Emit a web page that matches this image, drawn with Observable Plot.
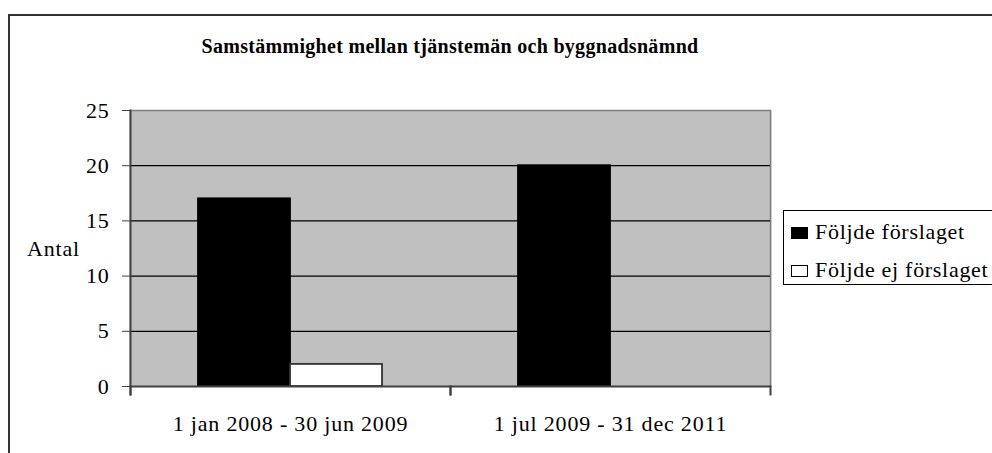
<!DOCTYPE html>
<html>
<head>
<meta charset="utf-8">
<script src="https://cdn.jsdelivr.net/npm/d3@7"></script>
<script src="https://cdn.jsdelivr.net/npm/@observablehq/plot@0.6"></script>
<style>
  html, body { margin: 0; padding: 0; background: #fff; }
  #wrap { position: relative; width: 992px; height: 453px; overflow: hidden; font-family: "Liberation Serif", "Times New Roman", serif; }
  #chart { position: absolute; left: 0; top: 0; }
  #outer { position: absolute; left: 8px; top: 14px; width: 1100px; height: 600px; border: 2px solid #333; box-sizing: border-box; }
  #title { position: absolute; left: 0; width: 900px; top: 36px; text-align: center; font-weight: bold; font-size: 20px; line-height: 20px; color: #000; white-space: nowrap; letter-spacing: 0.3px; }
  #ylabel { position: absolute; left: 27px; top: 238px; font-size: 22px; line-height: 22px; letter-spacing: 0.8px; }
  #legend { position: absolute; left: 783px; top: 210px; width: 300px; height: 75px; border: 1px solid #000; box-sizing: border-box; }
  .item { position: absolute; left: 7px; font-size: 22px; line-height: 22px; letter-spacing: 0.7px; white-space: nowrap; }
  .sw { position: absolute; left: 0; width: 17px; height: 12px; box-sizing: border-box; border: 1px solid #000; }
  .item span.t { position: absolute; left: 24px; top: 0; }
</style>
</head>
<body>
<div id="wrap">
  <div id="outer"></div>
  <div id="chart"></div>
  <div id="title"></div>
  <div id="ylabel"></div>
  <div id="legend"></div>
</div>
<script>
const chartTitle = "Samstämmighet mellan tjänstemän och byggnadsnämnd";
const yAxisTitle = "Antal";
const periods = ["1 jan 2008 - 30 jun 2009", "1 jul 2009 - 31 dec 2011"];
const seriesNames = ["Följde förslaget", "Följde ej förslaget"];
const followed = [17, 20];
const notFollowed = [2, 0];
const seriesFill = ["#000000", "#ffffff"];
const seriesStroke = ["#000000", "#333333"];
const yTicks = [0, 5, 10, 15, 20, 25];
const gridValues = [5, 10, 15, 20];

const seriesValues = [followed, notFollowed];
const data = [];
periods.forEach((p, i) => {
  seriesNames.forEach((s, j) => {
    data.push({period: p, series: s, value: seriesValues[j][i], fill: seriesFill[j], stroke: seriesStroke[j]});
  });
});

const plot = Plot.plot({
  width: 992,
  height: 453,
  marginLeft: 129,
  marginRight: 222,
  marginTop: 110,
  marginBottom: 67,
  style: {fontFamily: "'Liberation Serif', 'Times New Roman', serif", fontSize: "22px", letterSpacing: "0.8px", background: "transparent", color: "#000", overflow: "visible"},
  fx: {domain: periods, padding: 0, label: null},
  x: {domain: seriesNames, paddingInner: 0, paddingOuter: 0.73, axis: null},
  y: {domain: [0, 25], axis: null},
  marks: [
    Plot.frame({fill: "#c0c0c0", insetLeft: -1, insetRight: -1}),
    Plot.frame({anchor: "right", stroke: "#808080", strokeWidth: 1.5, facetAnchor: "right"}),
    Plot.ruleY(gridValues, {stroke: "#000", strokeWidth: 1.2}),
    Plot.ruleY([25], {stroke: "#808080", strokeWidth: 1.5}),
    Plot.barY(data, {fx: "period", x: "series", y: "value", fill: d => d.fill, stroke: d => d.stroke, strokeWidth: 1.8}),
    Plot.ruleY([0], {stroke: "#404040", strokeWidth: 2}),
    Plot.frame({anchor: "left", stroke: "#404040", strokeWidth: 2, facetAnchor: "left", insetBottom: -8}),
    Plot.frame({anchor: "left", stroke: "#404040", strokeWidth: 2, insetTop: 276, insetBottom: -8}),
    Plot.frame({anchor: "right", stroke: "#404040", strokeWidth: 2, insetTop: 276, insetBottom: -8}),
    Plot.axisY({ticks: yTicks, tickSize: 8, tickPadding: 13, stroke: "#404040", label: null}),
    Plot.axisFx({anchor: "bottom", tickSize: 0, tickPadding: 29, label: null})
  ]
});
document.getElementById("chart").appendChild(plot);

document.getElementById("title").textContent = chartTitle;
document.getElementById("ylabel").textContent = yAxisTitle;
const legend = document.getElementById("legend");
seriesNames.forEach((s, j) => {
  const item = document.createElement("div");
  item.className = "item";
  item.style.top = (10 + j * 38) + "px";
  const sw = document.createElement("div");
  sw.className = "sw";
  sw.style.background = seriesFill[j];
  sw.style.top = "6px";
  const t = document.createElement("span");
  t.className = "t";
  t.textContent = s;
  item.appendChild(sw);
  item.appendChild(t);
  legend.appendChild(item);
});
</script>
</body>
</html>
